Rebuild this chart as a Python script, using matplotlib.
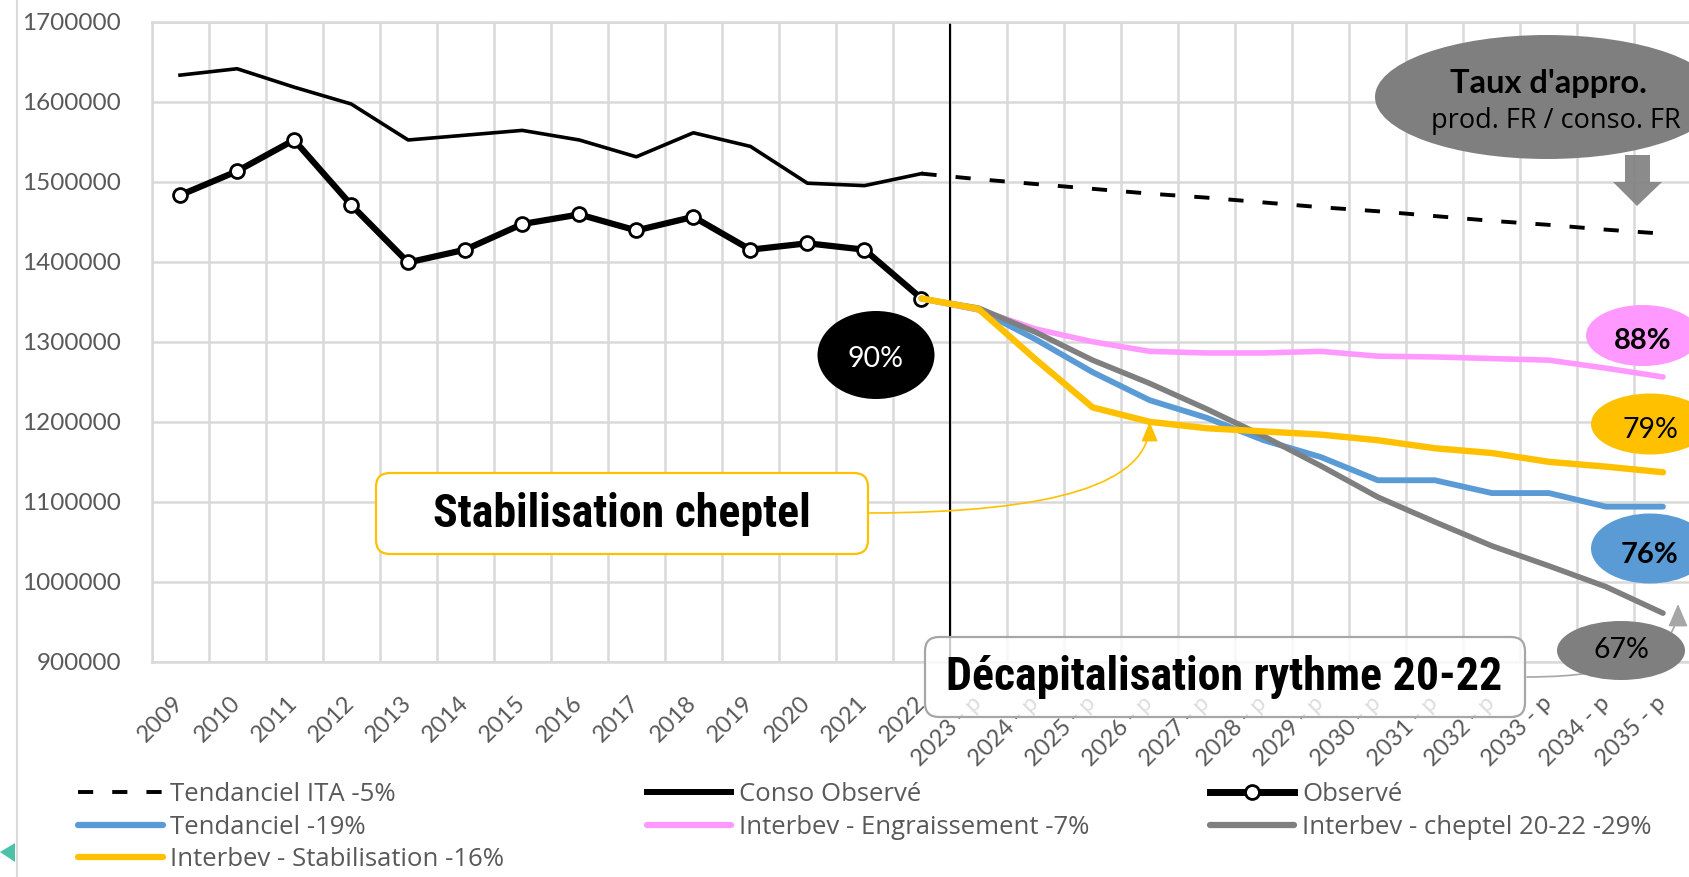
import matplotlib
matplotlib.use("Agg")
import matplotlib.pyplot as plt
from matplotlib.lines import Line2D
from matplotlib.patches import Ellipse, FancyBboxPatch, Polygon
from matplotlib import font_manager as fm

W, H = 1689, 877

# données
annees = ["2009", "2010", "2011", "2012", "2013", "2014", "2015", "2016", "2017",
          "2018", "2019", "2020", "2021", "2022",
          "2023 - p", "2024 - p", "2025 - p", "2026 - p", "2027 - p", "2028 - p",
          "2029 - p", "2030 - p", "2031 - p", "2032 - p", "2033 - p", "2034 - p", "2035 - p"]

# 2009 -> 2022
conso_observe = [1633000, 1641000, 1618000, 1597000, 1552000, 1558000, 1564000,
                 1552000, 1531000, 1561000, 1544000, 1498000, 1495000, 1510000]
observe = [1483000, 1513000, 1552000, 1471000, 1399000, 1415000, 1447000,
           1459000, 1439000, 1456000, 1415000, 1423000, 1415000, 1354000]

# 2022 -> 2035
tendanciel_ita = [1510000, 1503000, 1497000, 1491000, 1485000, 1480000, 1474000,
                  1468000, 1463000, 1457000, 1451000, 1446000, 1440000, 1435000]
tendanciel = [1354000, 1340000, 1303000, 1262000, 1227000, 1205000, 1177000,
              1156000, 1127000, 1127000, 1111000, 1111000, 1094000, 1094000]
engraissement = [1354000, 1340000, 1316000, 1300000, 1288000, 1286000, 1286000,
                 1288000, 1282000, 1281000, 1279000, 1277000, 1267000, 1256000]
stabilisation = [1354000, 1341000, 1278000, 1218000, 1200000, 1192000, 1188000,
                 1184000, 1177000, 1167000, 1161000, 1150000, 1144000, 1137000]
cheptel = [1354000, 1342000, 1312000, 1277000, 1248000, 1216000, 1182000,
           1145000, 1106000, 1075000, 1045000, 1020000, 994000, 961000]

taux = ["90%", "88%", "79%", "76%", "67%"]

BLEU, JAUNE, ROSE, GRIS = "#5B9BD5", "#FFC000", "#FF99FF", "#7F7F7F"
GRILLE, TEXTE = "#D9D9D9", "#595959"

noms = {f.name for f in fm.fontManager.ttflist}
etroite, taille_etroite = "Liberation Sans", 28
for nom in ["Liberation Sans Narrow", "Roboto Condensed", "Open Sans Condensed"]:
    if nom in noms:
        etroite, taille_etroite = nom, 33
        break
police = "Lato"
police_leg = "Open Sans"


def fx(x):
    return x / W


def fy(y):
    return 1 - y / H


fig = plt.figure(figsize=(W / 100, H / 100), dpi=100)
ax = fig.add_axes([fx(151.5), fy(662), 1540 / W, (662 - 21.5) / H])

x_hist = list(range(len(observe)))
x_proj = list(range(len(observe) - 1, len(annees)))

ax.plot(x_proj, tendanciel_ita, color="black", lw=2.8, ls=(0, (3.9, 4.9)), zorder=3)
ax.plot(x_hist, conso_observe, color="black", lw=2.6, zorder=3)
ax.plot(x_hist, observe, color="black", lw=4.5, marker="o", ms=10, mfc="white",
        mec="black", mew=2, zorder=3)
ax.plot(x_proj, tendanciel, color=BLEU, lw=4.2, solid_capstyle="round", zorder=3)
ax.plot(x_proj, engraissement, color=ROSE, lw=4.0, solid_capstyle="round", zorder=3)
ax.plot(x_proj, cheptel, color=GRIS, lw=4.0, solid_capstyle="round", zorder=3)
ax.plot(x_proj, stabilisation, color=JAUNE, lw=4.6, solid_capstyle="round", zorder=3)
ax.axvline(13.5, color="black", lw=1.5, zorder=2.5)

ax.set_xlim(-0.5, len(annees) - 0.5)
ax.set_ylim(900000, 1700000)
ax.set_xticks(range(len(annees)))
ax.set_xticklabels(annees, rotation=45, ha="right", va="center", rotation_mode="anchor",
                   fontsize=17, color=TEXTE, family=police)
yt = list(range(900000, 1700001, 100000))
ax.set_yticks(yt)
ax.set_yticklabels([str(v) for v in yt], fontsize=17.5, color=TEXTE, family=police)
ax.set_xticks([i - 0.5 for i in range(len(annees) + 1)], minor=True)
ax.tick_params(axis="x", which="both", length=0, pad=27)
ax.tick_params(axis="y", length=0, pad=22)
ax.grid(which="minor", axis="x", color=GRILLE, lw=1.8)
ax.grid(which="major", axis="y", color=GRILLE, lw=1.8)
ax.set_axisbelow(True)
for cote in ["left", "bottom", "top"]:
    ax.spines[cote].set_color(GRILLE)
    ax.spines[cote].set_linewidth(1.8)
ax.spines["right"].set_visible(False)

# bord du graphique et petit triangle
fig.add_artist(Line2D([fx(16.5), fx(16.5)], [0, 1], color=GRILLE, lw=1.5))
fig.add_artist(Polygon([(fx(0), fy(852)), (fx(15), fy(843)), (fx(15), fy(862))],
                       closed=True, facecolor="#4BC1A8", edgecolor="none"))


def bulle(cx, cy, w, h, couleur):
    fig.add_artist(Ellipse((fx(cx), fy(cy)), w / W, h / H, transform=fig.transFigure,
                           facecolor=couleur, edgecolor="none", zorder=4))


def texte(cx, by, s, **kw):
    fig.text(fx(cx), fy(by), s, ha="center", va="baseline", zorder=5, **kw)


def boite(x0, y0, x1, y1, bord, fond):
    fig.add_artist(FancyBboxPatch((fx(x0), fy(y1)), (x1 - x0) / W, (y1 - y0) / H,
                                  boxstyle="round,pad=0,rounding_size=%f" % (14 / W),
                                  mutation_aspect=W / H, transform=fig.transFigure,
                                  facecolor=fond, edgecolor=bord, lw=1.6, zorder=4))


# bulle "Taux d'appro."
bulle(1547, 97, 344, 124, GRIS)
texte(1548, 93, "Taux d'appro.", fontsize=23.5, fontweight="bold", color="black", family=police)
texte(1556, 128, "prod. FR / conso. FR", fontsize=19.5, color="black", family=police_leg)
fig.add_artist(Polygon([(fx(1625), fy(155)), (fx(1650), fy(155)), (fx(1650), fy(182)),
                        (fx(1662), fy(182)), (fx(1637), fy(206)), (fx(1613), fy(182)),
                        (fx(1625), fy(182))], closed=True, facecolor=GRIS,
                       edgecolor="none", alpha=0.9, zorder=4))

# taux d'approvisionnement
bulle(876, 355, 117, 88, "black")
texte(876, 367, taux[0], fontsize=20.5, color="white", family=police)
bulle(1643, 335.5, 114, 61, ROSE)
texte(1643, 349, taux[1], fontsize=21, fontweight="bold", color="black", family=police)
bulle(1650, 424, 118, 61, JAUNE)
texte(1650, 438.5, taux[2], fontsize=20.5, color="black", family=police)
bulle(1650, 548.5, 118, 70, BLEU)
texte(1650, 563, taux[3], fontsize=21, fontweight="bold", color="black", family=police)
bulle(1621, 650.5, 128, 59, GRIS)
texte(1621, 658, taux[4], fontsize=20.5, color="black", family=police)

# encadrés scénarios
boite(376, 473, 868, 554, JAUNE, "white")
texte(622, 527, "Stabilisation cheptel", fontsize=taille_etroite, fontweight="bold",
      color="black", family=etroite)
ax.annotate("", xy=(17, stabilisation[4]), xycoords="data",
            xytext=(fx(868), fy(513)), textcoords="figure fraction",
            arrowprops=dict(arrowstyle="-|>,head_length=0.6,head_width=0.25", color=JAUNE,
                            lw=1.2, connectionstyle="angle3,angleA=0,angleB=90",
                            shrinkA=0, shrinkB=0, mutation_scale=20),
            annotation_clip=False, zorder=4)

boite(925, 637, 1525, 717, "#A6A6A6", (1, 1, 1, 0.8))
texte(1224, 690, "Décapitalisation rythme 20-22", fontsize=taille_etroite, fontweight="bold",
      color="black", family=etroite)
ax.annotate("", xy=(fx(1678), fy(604)), xycoords="figure fraction",
            xytext=(fx(1527), fy(677)), textcoords="figure fraction",
            arrowprops=dict(arrowstyle="-|>,head_length=0.7,head_width=0.3", color="#A6A6A6",
                            lw=1.2, connectionstyle="angle3,angleA=0,angleB=90",
                            shrinkA=0, shrinkB=0, mutation_scale=20),
            annotation_clip=False, zorder=4)

# légende en trois colonnes
h_ita = Line2D([], [], color="black", lw=2.8, ls=(0, (3.9, 4.9)))
h_tend = Line2D([], [], color=BLEU, lw=4.5, solid_capstyle="round")
h_stab = Line2D([], [], color=JAUNE, lw=4.5, solid_capstyle="round")
h_conso = Line2D([], [], color="black", lw=4.3)
h_engr = Line2D([], [], color=ROSE, lw=4.5, solid_capstyle="round")
h_obs = Line2D([], [], color="black", lw=5, marker="o", ms=10, mfc="white", mec="black", mew=2)
h_chep = Line2D([], [], color=GRIS, lw=4.5, solid_capstyle="round")

colonnes = [
    (78, [h_ita, h_tend, h_stab], ["Tendanciel ITA -5%", "Tendanciel -19%",
                                    "Interbev - Stabilisation -16%"]),
    (646.5, [h_conso, h_engr], ["Conso Observé", "Interbev - Engraissement -7%"]),
    (1209.5, [h_obs, h_chep], ["Observé", "Interbev - cheptel 20-22 -29%"]),
]
for x0, poignees, libelles in colonnes:
    leg = fig.legend(poignees, libelles, loc="upper left", bbox_to_anchor=(fx(x0), fy(782)),
                     frameon=False, borderpad=0, borderaxespad=0, handlelength=3.3,
                     handletextpad=0.3, labelspacing=0.3,
                     prop={"family": police_leg, "size": 18.5})
    for t in leg.get_texts():
        t.set_color(TEXTE)

fig.savefig("out.png", dpi=100)
